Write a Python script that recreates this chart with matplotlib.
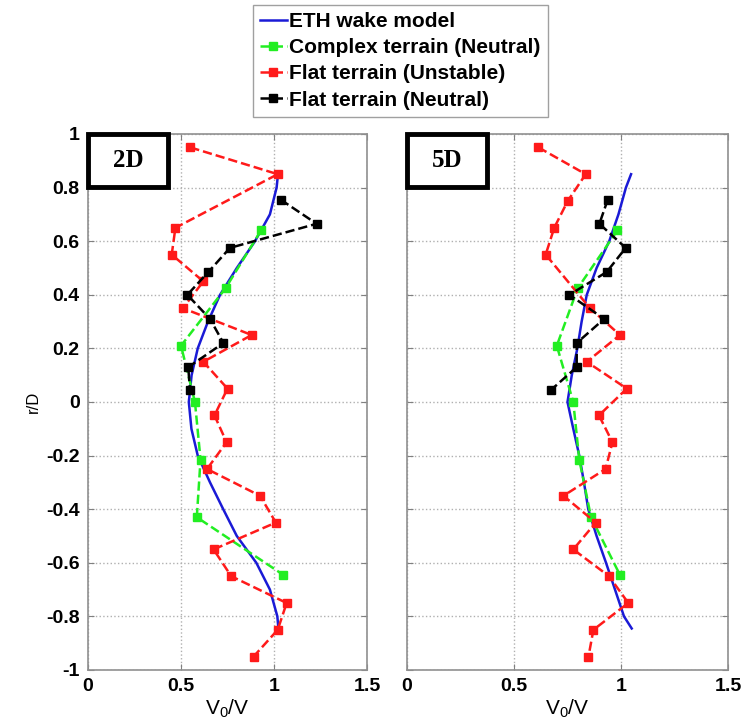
import matplotlib
matplotlib.use('Agg')
import matplotlib.pyplot as plt
from matplotlib.patches import Rectangle

# --- данные: 2D ---
eth_2d_y = [0.84, 0.8, 0.7, 0.6, 0.5, 0.4, 0.3, 0.2, 0.1, 0.0, -0.1, -0.2, -0.3, -0.4, -0.5, -0.6, -0.7, -0.8, -0.84]
eth_2d_x = [1.02, 1.014, 0.978, 0.898, 0.80, 0.71, 0.645, 0.59, 0.557, 0.542, 0.556, 0.59, 0.656, 0.727, 0.80, 0.905, 0.978, 1.018, 1.023]

complex_y = [0.64, 0.425, 0.21, 0.0, -0.215, -0.43, -0.645]
complex_2d_x = [0.93, 0.74, 0.50, 0.575, 0.605, 0.585, 1.05]

unstable_y = [0.95, 0.85, 0.65, 0.55, 0.45, 0.35, 0.25, 0.15, 0.05, -0.05, -0.15, -0.25, -0.35, -0.45, -0.55, -0.65, -0.75, -0.85, -0.95]
unstable_2d_x = [0.55, 1.02, 0.47, 0.45, 0.62, 0.51, 0.88, 0.62, 0.75, 0.68, 0.745, 0.64, 0.925, 1.01, 0.675, 0.77, 1.068, 1.02, 0.89]

neutral_y = [0.755, 0.665, 0.575, 0.485, 0.40, 0.31, 0.22, 0.13, 0.045]
neutral_2d_x = [1.036, 1.229, 0.763, 0.647, 0.534, 0.656, 0.728, 0.539, 0.548]

# --- данные: 5D ---
eth_5d_y = [0.85, 0.8, 0.7, 0.6, 0.5, 0.4, 0.3, 0.2, 0.1, 0.0, -0.1, -0.2, -0.3, -0.4, -0.5, -0.6, -0.7, -0.8, -0.845]
eth_5d_x = [1.047, 1.023, 0.988, 0.945, 0.886, 0.84, 0.816, 0.796, 0.77, 0.75, 0.777, 0.805, 0.827, 0.847, 0.886, 0.93, 0.972, 1.014, 1.05]

complex_5d_x = [0.983, 0.798, 0.70, 0.777, 0.805, 0.86, 0.995]

unstable_5d_y = [0.95, 0.85, 0.75, 0.65, 0.55, 0.35, 0.25, 0.15, 0.05, -0.05, -0.15, -0.25, -0.35, -0.45, -0.55, -0.65, -0.75, -0.85, -0.95]
unstable_5d_x = [0.614, 0.835, 0.751, 0.688, 0.648, 0.855, 0.995, 0.84, 1.027, 0.897, 0.96, 0.928, 0.731, 0.882, 0.777, 0.944, 1.034, 0.871, 0.848]

neutral_5d_x = [0.938, 0.899, 1.022, 0.933, 0.759, 0.921, 0.793, 0.793, 0.673]

labels = ['ETH wake model', 'Complex terrain (Neutral)', 'Flat terrain (Unstable)', 'Flat terrain (Neutral)']
y_ticks = [-1, -0.8, -0.6, -0.4, -0.2, 0, 0.2, 0.4, 0.6, 0.8, 1]
y_tick_labels = ['-1', '-0.8', '-0.6', '-0.4', '-0.2', '0', '0.2', '0.4', '0.6', '0.8', '1']
x_ticks = [0, 0.5, 1, 1.5]
x_tick_labels = ['0', '0.5', '1', '1.5']

fig = plt.figure(figsize=(7.55, 7.27), dpi=100)
ax1 = fig.add_axes([88 / 755, 1 - 670 / 727, 279 / 755, 536 / 727])
ax2 = fig.add_axes([407 / 755, 1 - 670 / 727, 321 / 755, 536 / 727])

blue = '#1a1ad6'
green = '#22ee22'
red = '#ff1a1a'

panels = [
    (ax1, '2D', eth_2d_x, eth_2d_y, complex_2d_x, unstable_2d_x, unstable_y, neutral_2d_x),
    (ax2, '5D', eth_5d_x, eth_5d_y, complex_5d_x, unstable_5d_x, unstable_5d_y, neutral_5d_x),
]

for ax, tag, ex, ey, cx, ux, uy, nx in panels:
    ax.plot(ex, ey, '-', color=blue, lw=1.8, label=labels[0], zorder=3)
    ax.plot(cx, complex_y, '--s', color=green, lw=1.8, ms=6, label=labels[1], zorder=4)
    ax.plot(ux, uy, '--s', color=red, lw=1.8, ms=6, label=labels[2], zorder=5)
    ax.plot(nx, neutral_y, '--s', color='black', lw=1.8, ms=6, label=labels[3], zorder=6)

    ax.set_xlim(0, 1.5)
    ax.set_ylim(-1, 1)
    ax.set_xticks(x_ticks)
    ax.set_xticklabels(x_tick_labels, fontsize=14, fontweight='bold', family='Liberation Sans')
    ax.set_yticks(y_ticks)
    ax.grid(True, color='#b0b0b0', linestyle=':', linewidth=1)
    ax.tick_params(direction='in', top=True, right=True, length=4, color='#808080', pad=6)
    for s in ax.spines.values():
        s.set_color('#909090')
        s.set_linewidth(1.2)
    ax.set_xlabel(r'$\mathregular{V_0/V}$', fontsize=15, family='Liberation Sans', labelpad=2)

    # рамка с подписью в левом верхнем углу
    w = 80 / (ax.get_position().width * 755)
    h = 53 / 536
    ax.add_patch(Rectangle((0, 1 - h), w, h, transform=ax.transAxes, fc='white', ec='black',
                           lw=3.5, zorder=10, clip_on=False))
    ax.text(w / 2, 1 - h / 2, tag, transform=ax.transAxes, ha='center', va='center',
            fontsize=18, fontweight='bold', family='Liberation Serif', zorder=11)

ax1.set_yticklabels(y_tick_labels, fontsize=14, fontweight='bold', family='Liberation Sans')
ax2.set_yticklabels([])
ax1.set_ylabel('r/D', fontsize=12, family='Liberation Sans', labelpad=4)

handles, lbls = ax1.get_legend_handles_labels()
fig.legend(handles, lbls, loc='upper center', bbox_to_anchor=(0.53, 1.008),
           prop={'family': 'Liberation Sans', 'size': 15, 'weight': 'bold'},
           fancybox=False, edgecolor='#a0a0a0', framealpha=1, handlelength=1.3,
           handletextpad=0.1, borderpad=0.35, labelspacing=0.35, numpoints=1)

plt.savefig('out.png', dpi=100)
